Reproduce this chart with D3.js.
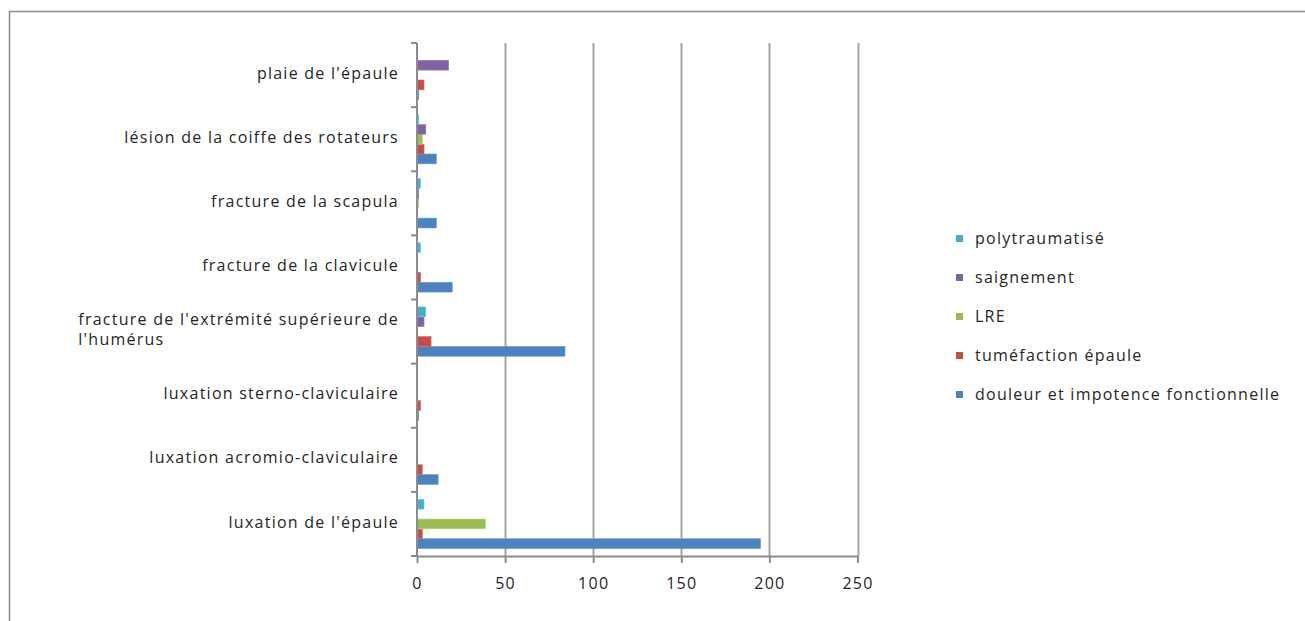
<!DOCTYPE html>
<html>
<head>
<meta charset="utf-8">
<script src="https://cdn.jsdelivr.net/npm/d3@7"></script>
<style>
  html, body { margin: 0; padding: 0; background: #fff; }
  svg { display: block; }
  text { font-family: "Open Sans", Lato, sans-serif; fill: #262626; letter-spacing: 1.25px; }
</style>
</head>
<body>
<svg id="chart" width="1305" height="621"></svg>
<script>
// Categories, bottom to top as they appear on the axis
const categories = [
  "luxation de l'épaule",
  "luxation acromio-claviculaire",
  "luxation sterno-claviculaire",
  "fracture de l'extrémité supérieure de\nl'humérus",
  "fracture de la clavicule",
  "fracture de la scapula",
  "lésion de la coiffe des rotateurs",
  "plaie de l'épaule"
];

// Series values, same order as categories
const douleur = [195, 12, 1, 84, 20, 11, 11, 1];
const tumefaction = [3, 3, 2, 8, 2, 0, 4, 4];
const lre = [39, 0, 0, 0, 0, 1, 3, 0];
const saignement = [0, 0, 0, 4, 0, 1, 5, 18];
const polytraumatise = [4, 0, 0, 5, 2, 2, 1, 0];

const seriesNames = ["douleur et impotence fonctionnelle", "tuméfaction épaule", "LRE", "saignement", "polytraumatisé"];
const seriesValues = [douleur, tumefaction, lre, saignement, polytraumatise];
const seriesColors = ["#4f81bd", "#c0504d", "#9bbb59", "#8064a2", "#4bacc6"];

const xTicks = [0, 50, 100, 150, 200, 250];

const svg = d3.select("#chart");

// outer chart frame
svg.append("rect")
  .attr("x", 9.5).attr("y", 11.5)
  .attr("width", 1310).attr("height", 630)
  .attr("fill", "none").attr("stroke", "#8c8c8c").attr("stroke-width", 1.5);

const plot = { left: 417, right: 857.5, top: 43, bottom: 556 };

const x = d3.scaleLinear().domain([0, 250]).range([plot.left, plot.right]);

// category bands, top of the plot holds the last category
const y = d3.scaleBand()
  .domain(categories.slice().reverse())
  .range([plot.top, plot.bottom])
  .padding(0);

// series within a category: first series at the bottom
const gapRatio = 1.5;
const inner = d3.scaleBand()
  .domain(d3.range(seriesNames.length).reverse())
  .range([0, y.bandwidth()])
  .paddingInner(0)
  .paddingOuter(gapRatio / 2);

// vertical gridlines
svg.append("g")
  .selectAll("line")
  .data(xTicks.filter(d => d > 0))
  .join("line")
  .attr("x1", d => Math.round(x(d)) + 0.5)
  .attr("x2", d => Math.round(x(d)) + 0.5)
  .attr("y1", plot.top)
  .attr("y2", plot.bottom)
  .attr("stroke", "#a6a6a6")
  .attr("stroke-width", 2);

// bars
const rows = [];
categories.forEach((c, ci) => {
  seriesValues.forEach((vals, si) => {
    rows.push({ cat: c, s: si, v: vals[ci] });
  });
});

svg.append("g")
  .selectAll("rect")
  .data(rows.filter(d => d.v > 0))
  .join("rect")
  .attr("x", x(0))
  .attr("y", d => y(d.cat) + inner(d.s))
  .attr("width", d => x(d.v) - x(0))
  .attr("height", inner.bandwidth())
  .attr("fill", d => seriesColors[d.s])
  .attr("stroke", d => d3.color(seriesColors[d.s]).brighter(0.6))
  .attr("stroke-width", 0.6);

// x axis
const xAxis = d3.axisBottom(x).tickValues(xTicks).tickSize(7).tickSizeOuter(0).tickPadding(15);
const gx = svg.append("g")
  .attr("transform", `translate(0,${plot.bottom})`)
  .call(xAxis);
gx.select(".domain").attr("stroke", "#8c8c8c").attr("stroke-width", 2);
gx.selectAll(".tick line").attr("stroke", "#8c8c8c").attr("stroke-width", 2);
gx.selectAll(".tick text")
  .style("font-family", "\"Open Sans\", Lato, sans-serif")
  .style("font-size", "16px")
  .attr("fill", "#262626");

// y axis: line with ticks on the band boundaries
const gy = svg.append("g");
gy.append("line")
  .attr("x1", plot.left).attr("x2", plot.left)
  .attr("y1", plot.top).attr("y2", plot.bottom)
  .attr("stroke", "#8c8c8c").attr("stroke-width", 2);
const boundaries = categories.map(c => y(c)).concat([plot.bottom]);
gy.selectAll("line.tk")
  .data(boundaries)
  .join("line")
  .attr("class", "tk")
  .attr("x1", plot.left - 6).attr("x2", plot.left)
  .attr("y1", d => d).attr("y2", d => d)
  .attr("stroke", "#8c8c8c").attr("stroke-width", 2);

// category labels, right aligned to the axis; wrapped labels are left aligned within their block
const labelRight = 399;
categories.forEach(c => {
  const lines = c.split("\n");
  const cy = y(c) + y.bandwidth() / 2 - 2;
  const lh = 20;
  const g = svg.append("g");
  const t = g.append("text")
    .style("font-size", "16px");
  lines.forEach((ln, i) => {
    t.append("tspan")
      .attr("x", 0)
      .attr("y", cy + (i - (lines.length - 1) / 2) * lh)
      .attr("dy", "0.35em")
      .text(ln);
  });
  const w = t.node().getBBox().width;
  t.attr("transform", `translate(${labelRight - w},0)`);
});

// legend, last series at the top
const legend = svg.append("g");
const legendOrder = d3.range(seriesNames.length).reverse();
legend.selectAll("g")
  .data(legendOrder)
  .join("g")
  .attr("transform", (d, i) => `translate(956,${239 + i * 39})`)
  .each(function(d) {
    const g = d3.select(this);
    g.append("rect")
      .attr("x", 0).attr("y", -4)
      .attr("width", 7).attr("height", 7)
      .attr("fill", seriesColors[d]);
    g.append("text")
      .attr("x", 19).attr("y", -1)
      .attr("dy", "0.35em")
      .style("font-size", "16px")
      .text(seriesNames[d]);
  });
</script>
</body>
</html>
